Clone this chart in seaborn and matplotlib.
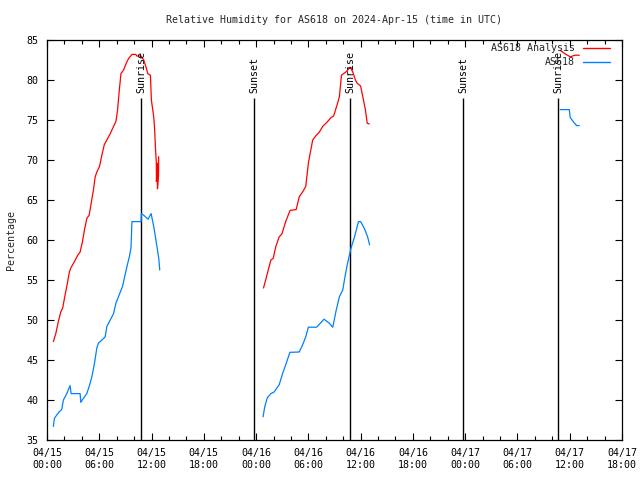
import matplotlib
matplotlib.use("Agg")
import matplotlib.pyplot as plt
import matplotlib.dates as mdates
import seaborn as sns
import pandas as pd

START = pd.Timestamp("2024-04-15 00:00")
END = pd.Timestamp("2024-04-17 18:00")

# hours since 04/15 00:00 UTC and relative humidity (%)
red1_h = [0.73, 1.0, 1.3, 1.58, 1.8, 2.07, 2.34, 2.57, 2.73, 3.15, 3.53, 3.8, 4.07, 4.3, 4.57,
          4.84, 5.07, 5.33, 5.53, 5.72, 6.03, 6.3, 6.57, 6.87, 7.26, 7.64, 7.91, 8.1, 8.3, 8.49,
          8.79, 9.1, 9.37, 9.75, 10.2, 10.3, 10.8, 11.1, 11.4, 11.56, 11.87, 11.98, 12.25, 12.36,
          12.44, 12.55, 12.56, 12.66, 12.68, 12.80, 12.82]
red1_v = [47.3, 48.25, 49.8, 51.0, 51.5, 53.1, 54.6, 56.0, 56.5, 57.3, 58.1, 58.5, 59.8, 61.25, 62.7,
          63.1, 64.6, 66.25, 67.9, 68.5, 69.2, 70.6, 71.9, 72.5, 73.3, 74.2, 74.8, 76.25, 78.75, 80.8,
          81.25, 82.1, 82.7, 83.2, 83.2, 83.0, 83.0, 82.5, 81.5, 80.8, 80.6, 77.5, 75.4, 73.75,
          71.7, 69.6, 67.3, 69.6, 66.4, 68.0, 70.4]

blue1_h = [0.73, 0.85, 1.1, 1.38, 1.69, 1.88, 2.27, 2.65, 2.77, 3.8, 3.88, 4.1, 4.57, 4.84, 5.15,
           5.45, 5.72, 5.9, 6.3, 6.68, 6.87, 7.26, 7.64, 7.91, 8.2, 8.67, 8.87, 9.18, 9.45, 9.64,
           9.75, 10.8, 10.83, 11.1, 11.6, 11.95, 12.25, 12.56, 12.83, 12.94]
blue1_v = [36.7, 37.7, 38.1, 38.5, 38.8, 40.0, 40.8, 41.8, 40.8, 40.8, 39.7, 40.1, 40.8, 41.7, 42.9,
           44.6, 46.5, 47.1, 47.5, 47.9, 49.2, 50.0, 50.8, 52.1, 52.9, 54.2, 55.2, 56.7, 57.9, 59.0,
           62.3, 62.3, 63.3, 63.1, 62.6, 63.3, 61.7, 59.6, 57.7, 56.25]

red2_h = [24.85, 25.1, 25.5, 25.7, 25.96, 26.27, 26.65, 26.96, 27.4, 27.9, 28.6, 28.95, 29.34, 29.7,
          30.0, 30.2, 30.5, 30.76, 31.26, 31.65, 32.2, 32.6, 32.9, 33.3, 33.56, 33.8, 34.3, 34.8,
          35.1, 35.4, 35.6, 36.0, 36.25, 36.55, 36.75, 37.0]
red2_v = [54.0, 55.0, 56.7, 57.5, 57.7, 59.2, 60.4, 60.75, 62.3, 63.7, 63.8, 65.4, 66.0, 66.7,
          69.6, 70.8, 72.5, 72.9, 73.5, 74.2, 74.8, 75.3, 75.5, 76.9, 77.9, 80.6, 81.0, 81.6,
          81.0, 80.0, 79.6, 79.25, 77.9, 76.25, 74.6, 74.5]

blue2_h = [24.8, 25.0, 25.3, 25.7, 26.07, 26.65, 27.04, 27.4, 27.88, 28.95, 29.34, 29.7, 30.0, 30.95,
           31.8, 32.4, 32.8, 33.2, 33.56, 33.95, 34.2, 34.5, 34.9, 35.3, 35.75, 36.0, 36.4, 36.8, 37.03]
blue2_v = [37.9, 39.2, 40.3, 40.8, 41.0, 41.9, 43.3, 44.4, 45.96, 46.0, 46.9, 47.9, 49.1, 49.1,
           50.1, 49.6, 49.1, 51.25, 52.9, 53.75, 55.4, 57.1, 59.0, 60.4, 62.3, 62.3, 61.5, 60.4, 59.4]

red3_h = [58.9, 59.5, 60.06, 60.6, 61.1]
red3_v = [83.7, 83.25, 82.9, 83.1, 83.1]
blue3_h = [58.9, 59.95, 60.06, 60.55, 60.8, 61.1]
blue3_v = [76.3, 76.3, 75.3, 74.6, 74.3, 74.3]

event_h = [10.79, 23.77, 34.79, 47.76, 58.67]
event_labels = ["Sunrise", "Sunset", "Sunrise", "Sunset", "Sunrise"]

series_names = ["AS618 Analysis", "AS618"]
colors = {"AS618 Analysis": "#ff0000", "AS618": "#0080ff"}

rows = []
for seg, (name, hs, vs) in enumerate([
        ("AS618 Analysis", red1_h, red1_v), ("AS618", blue1_h, blue1_v),
        ("AS618 Analysis", red2_h, red2_v), ("AS618", blue2_h, blue2_v),
        ("AS618 Analysis", red3_h, red3_v), ("AS618", blue3_h, blue3_v)]):
    for h, v in zip(hs, vs):
        rows.append({"time": START + pd.to_timedelta(h, unit="h"), "value": v,
                     "series": name, "segment": seg})
df = pd.DataFrame(rows)

sns.set_style("ticks")
plt.rcParams["font.family"] = ["DejaVu Sans Mono", "DejaVu Sans"]
plt.rcParams["font.size"] = 7.2

fig = plt.figure(figsize=(6.4, 4.8), dpi=100)
ax = fig.add_axes([47 / 640, 40 / 480, 575 / 640, 400 / 480])

# event lines
for h, lab in zip(event_h, event_labels):
    t = START + pd.to_timedelta(h, unit="h")
    ax.vlines(t, 35, 77.7, color="black", lw=1.0, zorder=1)
    ax.text(t, 78.4, lab, rotation=90, ha="center", va="bottom", fontsize=7.2, color="black")

sns.lineplot(data=df, x="time", y="value", hue="series", units="segment", estimator=None,
             sort=False, palette=colors, hue_order=series_names, lw=0.9, legend=False, ax=ax)

ax.set_xlim(START, END)
ax.set_ylim(35, 85)
ax.set_yticks(range(35, 86, 5))
ax.xaxis.set_major_locator(mdates.HourLocator(byhour=[0, 6, 12, 18]))
ax.xaxis.set_minor_locator(mdates.HourLocator(interval=2))
ax.xaxis.set_major_formatter(mdates.DateFormatter("%m/%d\n%H:%M"))
ax.tick_params(which="both", direction="in", top=True, right=True, colors="black", width=0.8)
ax.tick_params(which="major", length=5, pad=6)
ax.tick_params(which="minor", length=3)
for s in ax.spines.values():
    s.set_visible(True)
    s.set_color("black")
    s.set_linewidth(0.9)
ax.set_xlabel("")
ax.set_ylabel("Percentage", labelpad=8)
ax.set_title("Relative Humidity for AS618 on 2024-Apr-15 (time in UTC)", fontsize=7.2, pad=12)

# key (gnuplot style: right-aligned text followed by line sample)
key_y = [0.98, 0.945]
for name, ky in zip(series_names, key_y):
    ax.text(0.918, ky, name, transform=ax.transAxes, ha="right", va="center", fontsize=7.2)
    ax.plot([0.932, 0.979], [ky, ky], transform=ax.transAxes, color=colors[name], lw=1.0)

fig.savefig("out.png", dpi=100, facecolor="white")
